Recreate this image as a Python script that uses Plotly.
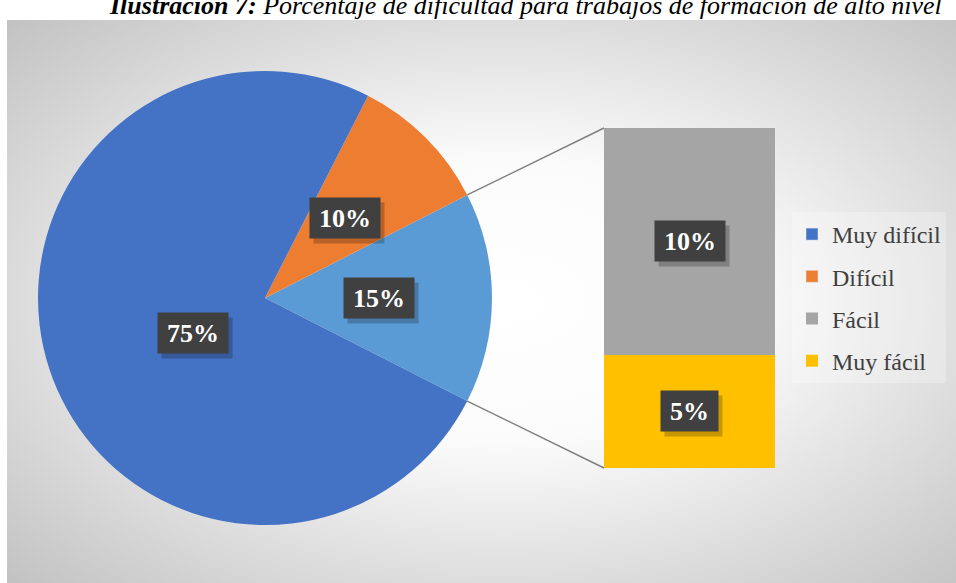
import base64
import math
import plotly.graph_objects as go

# ---- data ----
pie_labels = ["Muy difícil", "Difícil"]
pie_values = [75, 10]
bar_labels = ["Fácil", "Muy fácil"]
bar_values = [10, 5]
title_text = "<b>Ilustración 7:</b> Porcentaje de dificultad para trabajos de formación de alto nivel"

# ---- styles ----
W, H = 956, 583
pie_colors = ["#4472C4", "#ED7D31"]
other_color = "#5B9BD5"
bar_colors = ["#A5A5A5", "#FFC000"]
serif = "Liberation Serif, Times New Roman, serif"

other_value = sum(bar_values)
total = sum(pie_values) + other_value

# pie geometry (pixels)
pcx, pcy, R = 265, 298, 227
pie_dom_x = [(pcx - R) / W, (pcx + R) / W]
pie_dom_y = [(H - pcy - R) / H, (H - pcy + R) / H]

# bar geometry (pixels)
bx0, bx1, by_top, by_bot = 604, 775, 128, 468
bar_dom_x = [bx0 / W, bx1 / W]
bar_dom_y = [(H - by_bot) / H, (H - by_top) / H]

half = other_value / total * 360 / 2  # half-angle of the "other" slice

fig = go.Figure()

# pie: other slice first (centred on 3 o'clock), then counterclockwise
fig.add_trace(go.Pie(
    labels=["Otros"] + pie_labels[::-1],
    values=[other_value] + pie_values[::-1],
    marker=dict(colors=[other_color] + pie_colors[::-1], line=dict(width=0)),
    sort=False, direction="counterclockwise", rotation=90 - half,
    textinfo="none", showlegend=False, hoverinfo="label+percent",
    domain=dict(x=pie_dom_x, y=pie_dom_y),
))

# legend entries for pie categories
for i, (lab, col) in enumerate(zip(pie_labels, pie_colors)):
    fig.add_trace(go.Bar(x=[None], y=[None], name=lab, marker_color=col,
                         legendrank=i + 1, legendgroup=lab,
                         xaxis="x", yaxis="y"))

# stacked bar (bottom first)
for j in [1, 0]:
    fig.add_trace(go.Bar(x=[0], y=[bar_values[j]], name=bar_labels[j],
                         marker=dict(color=bar_colors[j], line=dict(width=0)),
                         width=1, legendrank=3 + j, legendgroup=bar_labels[j],
                         hoverinfo="name+y", xaxis="x", yaxis="y"))

annotations = []


def label(x, y, txt, xref, yref, w):
    common = dict(x=x, y=y, xref=xref, yref=yref, showarrow=False,
                  width=w, height=28, borderpad=6, align="center", valign="middle")
    # drop shadow box (no text)
    annotations.append(dict(text="&nbsp;", font=dict(family=serif, size=26, color="rgba(0,0,0,0)"),
                            bgcolor="rgba(0,0,0,0.22)", xshift=4, yshift=-5, **common))
    annotations.append(dict(text="<b>%s</b>" % txt,
                            font=dict(family=serif, size=26, color="white"),
                            bgcolor="#404040", **common))


# pie labels: at half radius along the slice mid-angle
start = -half
slices = [other_value] + pie_values[::-1]
for v in slices:
    span = v / total * 360
    mid = math.radians(start + span / 2)
    px = pcx + 0.5 * R * math.cos(mid)
    py = pcy - 0.5 * R * math.sin(mid)
    label(px / W, (H - py) / H, "%d%%" % round(v / total * 100), "paper", "paper", 58)
    start += span

# bar labels
cum = 0
for j in [1, 0]:
    v = bar_values[j]
    label(0, cum + v / 2, "%d%%" % v, "x", "y", 58 if v >= 10 else 45)
    cum += v

# title
annotations.append(dict(text="<i>%s</i>" % title_text, x=525 / W, y=1 - 5 / H,
                        xref="paper", yref="paper", showarrow=False,
                        xanchor="center", yanchor="middle",
                        font=dict(family=serif, size=26, color="black")))

# connector lines from pie edge to bar corners
a = math.radians(half)
ex = pcx + R * math.cos(a)
shapes = []
for sgn, by in [(1, by_top), (-1, by_bot)]:
    ey = pcy - sgn * R * math.sin(a)
    shapes.append(dict(type="line", xref="paper", yref="paper",
                       x0=ex / W, y0=(H - ey) / H, x1=bx0 / W, y1=(H - by) / H,
                       line=dict(color="#7F7F7F", width=1.5), layer="above"))

# radial gradient background panel
svg = ("<svg xmlns='http://www.w3.org/2000/svg' width='949' height='563' preserveAspectRatio='none'>"
       "<defs><radialGradient id='g' cx='52%' cy='50%' r='72%'>"
       "<stop offset='0' stop-color='#ffffff'/><stop offset='0.35' stop-color='#fbfbfb'/>"
       "<stop offset='1' stop-color='#c2c2c2'/></radialGradient></defs>"
       "<rect width='100%' height='100%' fill='url(#g)'/></svg>")
src = "data:image/svg+xml;base64," + base64.b64encode(svg.encode()).decode()

fig.update_layout(
    width=W, height=H, margin=dict(l=0, r=0, t=0, b=0),
    paper_bgcolor="white", plot_bgcolor="rgba(0,0,0,0)",
    barmode="stack", bargap=0,
    xaxis=dict(domain=bar_dom_x, range=[-0.5, 0.5], visible=False, fixedrange=True),
    yaxis=dict(domain=bar_dom_y, range=[0, total - sum(pie_values)], visible=False, fixedrange=True),
    showlegend=True,
    legend=dict(x=792 / W, y=1 - 212 / H, xanchor="left", yanchor="top",
                traceorder="grouped", tracegroupgap=8,
                font=dict(family=serif, size=24, color="#404040"),
                bgcolor="rgba(255,255,255,0.25)"),
    annotations=annotations, shapes=shapes,
    images=[dict(source=src, xref="paper", yref="paper", x=7 / W, y=1 - 20 / H,
                 sizex=1 - 7 / W, sizey=1 - 20 / H, sizing="stretch",
                 xanchor="left", yanchor="top", layer="below")],
)

fig.write_html("out.html")
